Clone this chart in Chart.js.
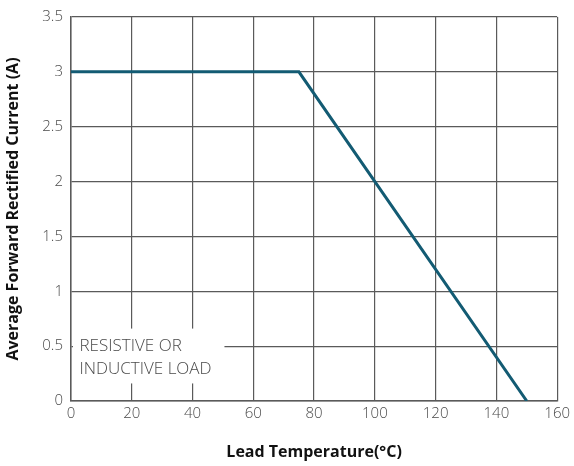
<!DOCTYPE html>
<html>
<head>
<meta charset="utf-8">
<script src="https://cdn.jsdelivr.net/npm/chart.js@4/dist/chart.umd.min.js"></script>
<style>
  html, body { margin: 0; padding: 0; background: #fff; }
  #wrap { width: 574px; height: 466px; }
</style>
</head>
<body>
<div id="wrap"><canvas id="derating" width="574" height="466"></canvas></div>
<script>
// derating curve data
const temps = [0, 75, 150];
const current = [3, 3, 0];
const xTicks = [0, 20, 40, 60, 80, 100, 120, 140, 160];
const yTicks = [0, 0.5, 1, 1.5, 2, 2.5, 3, 3.5];
const noteLines = ["RESISTIVE OR", "INDUCTIVE LOAD"];

const gridCol = "#5a5a5a";
const tickFont = { family: "'Open Sans', sans-serif", size: 15, weight: 300 };
const titleFont = { family: "'Open Sans', sans-serif", size: 16, weight: "bold" };

/* ===== note box drawn over the grid ===== */
const notePlugin = {
  id: "note",
  afterDatasetsDraw(chart) {
    const { ctx, scales } = chart;
    const x0 = scales.x.getPixelForValue(0) + 2;
    const x1 = scales.x.getPixelForValue(50.5);
    const y0 = scales.y.getPixelForValue(0.66);
    const y1 = scales.y.getPixelForValue(0.16);
    ctx.save();
    ctx.fillStyle = "#fff";
    ctx.fillRect(x0, y0, x1 - x0, y1 - y0);
    ctx.fillStyle = "#4a4a4a";
    ctx.font = "300 17px 'Open Sans', sans-serif";
    ctx.textBaseline = "middle";
    ctx.fillText(noteLines[0], scales.x.getPixelForValue(2.8), scales.y.getPixelForValue(0.5));
    ctx.fillText(noteLines[1], scales.x.getPixelForValue(2.8), scales.y.getPixelForValue(0.29));
    ctx.restore();
  }
};

new Chart(document.getElementById("derating"), {
  type: "line",
  data: {
    datasets: [{
      data: temps.map((t, i) => ({ x: t, y: current[i] })),
      borderColor: "#135b73",
      borderWidth: 3,
      pointRadius: 0,
      tension: 0,
      fill: false
    }]
  },
  options: {
    responsive: false,
    animation: false,
    layout: { padding: { top: 15, right: 16, left: 0, bottom: 0 } },
    plugins: { legend: { display: false }, tooltip: { enabled: false } },
    scales: {
      x: {
        type: "linear",
        min: 0, max: 160,
        afterBuildTicks: s => { s.ticks = xTicks.map(v => ({ value: v })); },
        afterFit: s => { s.height = 65; },
        grid: { color: gridCol, lineWidth: 1.2, drawTicks: false },
        border: { color: gridCol, width: 1.5 },
        ticks: { color: "#4a4a4a", font: tickFont, padding: 4, maxRotation: 0, callback: v => String(v) },
        title: {
          display: true,
          text: "Lead Temperature(°C)",
          color: "#111",
          font: titleFont,
          padding: { top: 0, bottom: 4 }
        }
      },
      y: {
        min: 0, max: 3.5,
        afterBuildTicks: s => { s.ticks = yTicks.map(v => ({ value: v })); },
        afterFit: s => { s.width = 71; },
        grid: { color: gridCol, lineWidth: 1.2, drawTicks: false },
        border: { color: gridCol, width: 1.5 },
        ticks: { color: "#4a4a4a", font: tickFont, padding: 8, callback: v => String(v) },
        title: {
          display: true,
          text: "Average Forward Rectified Current (A)",
          color: "#111",
          font: titleFont,
          padding: { top: 4, bottom: 0 }
        }
      }
    }
  },
  plugins: [notePlugin]
});
</script>
</body>
</html>
